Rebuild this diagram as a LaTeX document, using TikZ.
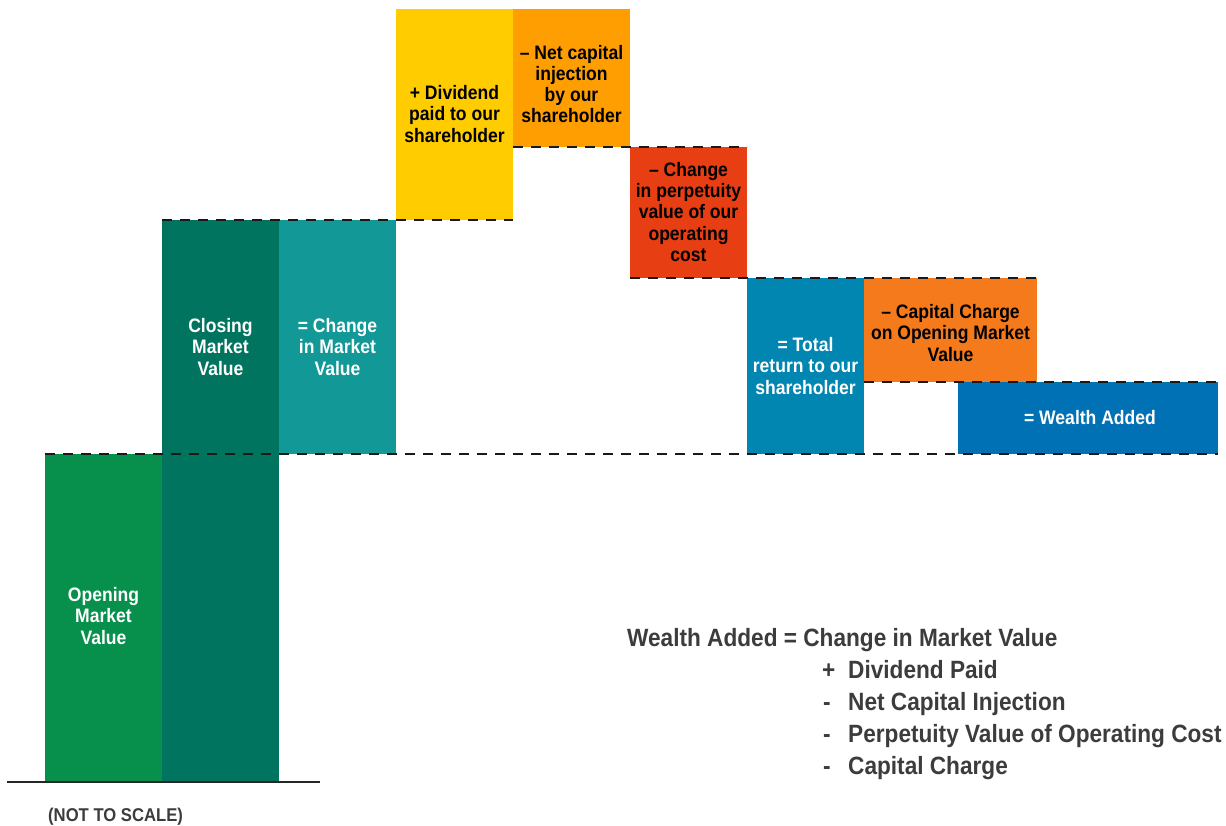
\documentclass[tikz,border=0pt]{standalone}
\usepackage{fontspec}
\setmainfont{Liberation Sans}
\newfontfamily\boxfont{Liberation Sans}[FakeStretch=0.9]
\newfontfamily\formfont{Liberation Sans}[FakeStretch=0.905]
\definecolor{cOpen}{HTML}{07904C}
\definecolor{cClose}{HTML}{00745F}
\definecolor{cChange}{HTML}{129896}
\definecolor{cDiv}{HTML}{FFCC00}
\definecolor{cNet}{HTML}{FF9E00}
\definecolor{cPerp}{HTML}{E83E14}
\definecolor{cTotal}{HTML}{0086B0}
\definecolor{cCap}{HTML}{F57A1C}
\definecolor{cWealth}{HTML}{0071B5}
\definecolor{cGray}{HTML}{3C3C3C}
\begin{document}
\begin{tikzpicture}[x=1pt,y=-1pt,
  bar/.style={draw=none,inner sep=0pt,outer sep=0pt,anchor=north west},
  lbl/.style={align=center,inner sep=0pt,font=\boxfont\bfseries\fontsize{19.5}{21.3}\selectfont},
  wlbl/.style={lbl,text=white},
  dashline/.style={draw=black!90,line width=1.6pt,dash pattern=on 10pt off 8pt},
  form/.style={anchor=base west,inner sep=0pt,text=cGray,font=\formfont\bfseries\fontsize{25}{30}\selectfont}]
\useasboundingbox (0,0) rectangle (1226,825);
% bars
\node[bar,fill=cOpen,minimum width=117pt,minimum height=328pt] (open) at (45,454) {};
\node[bar,fill=cClose,minimum width=117pt,minimum height=562pt] (close) at (162,220) {};
\node[bar,fill=cChange,minimum width=117pt,minimum height=234pt] (change) at (279,220) {};
\node[bar,fill=cDiv,minimum width=117pt,minimum height=211pt] (div) at (396,9) {};
\node[bar,fill=cNet,minimum width=117pt,minimum height=138pt] (net) at (513,9) {};
\node[bar,fill=cPerp,minimum width=117pt,minimum height=131pt] (perp) at (630,147) {};
\node[bar,fill=cTotal,minimum width=117pt,minimum height=176pt] (total) at (747,278) {};
\node[bar,fill=cCap,minimum width=173pt,minimum height=104pt] (cap) at (864,278) {};
\node[bar,fill=cWealth,minimum width=260pt,minimum height=72pt] (wealth) at (958,382) {};
% labels
\node[wlbl] (openT) at (103.5,616) {Opening\\Market\\Value};
\node[wlbl] (closeT) at (220.5,347) {Closing\\Market\\Value};
\node[wlbl] (changeT) at (337.5,347) {= Change\\in Market\\Value};
\node[lbl] (divT) at (454.5,114) {+ Dividend\\paid to our\\shareholder};
\node[lbl] (netT) at (571.5,84) {– Net capital\\injection\\by our\\shareholder};
\node[lbl] (perpT) at (688.5,212) {– Change\\in perpetuity\\value of our\\operating\\cost};
\node[wlbl] (totalT) at (805.5,366) {= Total\\return to our\\shareholder};
\node[lbl] (capT) at (950.5,333) {– Capital Charge\\on Opening Market\\Value};
\node[wlbl] (wealthT) at (1090,418) {= Wealth Added};
% dashed level lines
\draw[dashline] (open.north west) -- (wealth.south east);
\draw[dashline] (close.north west) -- (div.south east);
\draw[dashline] (net.south west) -- (perp.north east);
\draw[dashline] (perp.south west) -- (cap.north east);
\draw[dashline] (cap.south west) -- (wealth.north east);
% baseline
\coordinate (bl) at (7,782);
\coordinate (br) at (320,782);
\draw[line width=1.5pt,black!85] (bl) -- (br);
\node[anchor=base west,inner sep=0pt,text=cGray,font=\boxfont\bfseries\fontsize{18.5}{20}\selectfont] (scale) at (48,821) {(NOT TO SCALE)};
% formula
\node[form] (f0) at (627,646) {Wealth Added = Change in Market Value};
\node[form] (s1) at (822,678) {+};
\node[form] (f1) at (848,678) {Dividend Paid};
\node[form] (s2) at (823,710) {-};
\node[form] (f2) at (848,710) {Net Capital Injection};
\node[form] (s3) at (823,742) {-};
\node[form] (f3) at (848,742) {Perpetuity Value of Operating Cost};
\node[form] (s4) at (823,774) {-};
\node[form] (f4) at (848,774) {Capital Charge};
\end{tikzpicture}
\end{document}
